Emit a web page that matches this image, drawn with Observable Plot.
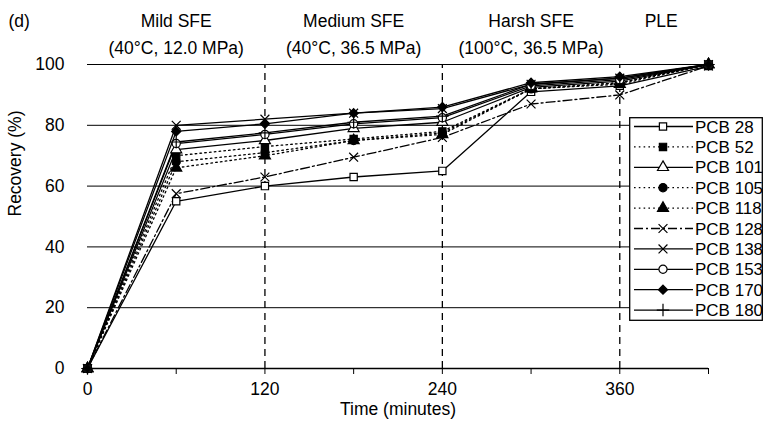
<!DOCTYPE html>
<html><head><meta charset="utf-8">
<script src="https://cdn.jsdelivr.net/npm/d3@7"></script>
<script src="https://cdn.jsdelivr.net/npm/@observablehq/plot@0.6"></script>
<style>
body{margin:0;background:#fff;}
#wrap{position:relative;width:763px;height:428px;font-family:"Liberation Sans",Arial,sans-serif;}
#legend{position:absolute;left:629px;top:117px;}
</style></head><body><div id="wrap"></div>
<script>
// ---- data ----
const times = [0, 60, 120, 180, 240, 300, 360, 420];
const seriesNames = ["PCB 28","PCB 52","PCB 101","PCB 105","PCB 118","PCB 128","PCB 138","PCB 153","PCB 170","PCB 180"];
const pcb28  = [0, 55,   60,   63,   65,   91,   93,   99.5];
const pcb52  = [0, 70,   73,   75.5, 78,   92,   94,   100];
const pcb101 = [0, 72,   75,   79,   81,   92.5, 94.5, 100];
const pcb105 = [0, 68,   71,   75,   77.5, 92,   94,   100];
const pcb118 = [0, 66,   70,   75,   77,   92,   93.5, 100];
const pcb128 = [0, 57.5, 63,   69.5, 76,   87,   90,   99.5];
const pcb138 = [0, 80,   82,   84,   85.5, 93.5, 95.5, 100];
const pcb153 = [0, 74,   77,   80.5, 82.5, 93,   95,   100];
const pcb170 = [0, 78,   80.5, 84,   86,   94,   96,   100];
const pcb180 = [0, 74.5, 77.5, 81,   83,   93.5, 95.5, 100];
const seriesValues = [pcb28, pcb52, pcb101, pcb105, pcb118, pcb128, pcb138, pcb153, pcb170, pcb180];

const gridValues = [20, 40, 60, 80, 100];
const stageBoundaries = [120, 240, 360];
const stageNames = ["Mild SFE", "Medium SFE", "Harsh SFE", "PLE"];
const stageConditions = ["(40°C, 12.0 MPa)", "(40°C, 36.5 MPa)", "(100°C, 36.5 MPa)", ""];
const stageCenters = [60, 180, 300, 388];
const xTicks = [0, 60, 120, 180, 240, 300, 360, 420];
const xTickLabels = [0, 120, 240, 360];
const yTicks = [0, 20, 40, 60, 80, 100];

// ---- styles ----
const DOT = "1.6,3.2";
const DASHDOT = "9,3,2,3";
const styleOf = {
  "PCB 28":  {symbol: "square",   fill: "white", dash: null},
  "PCB 52":  {symbol: "square",   fill: "black", dash: DOT},
  "PCB 101": {symbol: "triangle", fill: "white", dash: null},
  "PCB 105": {symbol: "circle",   fill: "black", dash: DOT},
  "PCB 118": {symbol: "triangle", fill: "black", dash: DOT},
  "PCB 128": {symbol: "times",    fill: "none",  dash: DASHDOT},
  "PCB 138": {symbol: "times",    fill: "none",  dash: null},
  "PCB 153": {symbol: "circle",   fill: "white", dash: null},
  "PCB 170": {symbol: "diamond2", fill: "black", dash: null},
  "PCB 180": {symbol: "plus",     fill: "none",  dash: null}
};
const R = 4.1;
const FONT = "Liberation Sans, Arial, sans-serif";
const FS = 17.5;

const rows = seriesNames.map((name, k) => times.map((t, i) => ({series: name, t, v: seriesValues[k][i]})));

const lineMarks = rows.map((data, k) => Plot.line(data, {
  x: "t", y: "v", stroke: "black", strokeWidth: 1.3,
  strokeDasharray: styleOf[seriesNames[k]].dash || undefined
}));
const dotMarks = rows.map((data, k) => {
  const s = styleOf[seriesNames[k]];
  return Plot.dot(data, {x: "t", y: "v", symbol: s.symbol, r: R,
    fill: s.fill, stroke: "black", strokeWidth: 1.2});
});

const stages = stageNames.map((n, i) => ({name: n, cond: stageConditions[i], x: stageCenters[i]}));

const chart = Plot.plot({
  width: 763, height: 428,
  marginLeft: 87, marginRight: 55, marginTop: 64, marginBottom: 60,
  style: {fontFamily: FONT, fontSize: FS + "px", background: "white", color: "black"},
  x: {domain: [0, 420]},
  y: {domain: [0, 100]},
  marks: [
    Plot.ruleY(gridValues, {stroke: "black", strokeWidth: 1}),
    Plot.ruleX(stageBoundaries, {y1: 0, y2: 100, stroke: "black", strokeWidth: 1.3, strokeDasharray: "7,5"}),
    Plot.ruleY([0], {stroke: "black", strokeWidth: 1.4}),
    Plot.axisX(xTicks, {tickSize: 6, tickPadding: 8, fontSize: FS, label: null,
      tickFormat: d => xTickLabels.includes(d) ? String(d) : ""}),
    Plot.axisY(yTicks, {tickSize: 0, tickPadding: 23, fontSize: FS, label: null}),
    Plot.text(["Time (minutes)"], {frameAnchor: "bottom", dy: 46, fontSize: FS}),
    Plot.text(["Recovery (%)"], {frameAnchor: "left", dx: -72, rotate: -90, fontSize: FS}),
    Plot.text(["(d)"], {frameAnchor: "top-left", dx: -79, dy: -50, textAnchor: "start", fontSize: FS}),
    Plot.text(stages, {x: "x", text: "name", frameAnchor: "top", dy: -50, fontSize: FS}),
    Plot.text(stages, {x: "x", text: "cond", frameAnchor: "top", dy: -23, fontSize: FS}),
    ...lineMarks,
    ...dotMarks
  ]
});
const wrap = document.getElementById("wrap");
wrap.appendChild(chart);

// ---- legend overlay ----
const symMap = {square: d3.symbolSquare, triangle: d3.symbolTriangle, circle: d3.symbolCircle,
  times: d3.symbolTimes, diamond2: d3.symbolDiamond2, plus: d3.symbolPlus};
const LW = 134, LH = 204, rowH = 20.4;
const lg = d3.select(wrap).append("svg").attr("id", "legend")
  .attr("width", LW).attr("height", LH).style("overflow", "visible");
lg.append("rect").attr("x", 0.7).attr("y", 0.7).attr("width", LW - 1.4).attr("height", LH - 1.4)
  .attr("fill", "white").attr("stroke", "black").attr("stroke-width", 1.3);
seriesNames.forEach((name, i) => {
  const s = styleOf[name];
  const y = 9.5 + i * rowH;
  const g = lg.append("g");
  g.append("line").attr("x1", 5).attr("x2", 64).attr("y1", y).attr("y2", y)
    .attr("stroke", "black").attr("stroke-width", 1.3)
    .attr("stroke-dasharray", s.dash || null);
  g.append("path").attr("transform", `translate(34,${y})`)
    .attr("d", d3.symbol(symMap[s.symbol], Math.PI * R * R)())
    .attr("fill", s.fill).attr("stroke", "black").attr("stroke-width", 1.2);
  g.append("text").attr("x", 66).attr("y", y).attr("dy", "0.36em")
    .attr("font-family", FONT).attr("font-size", 17).text(name);
});
</script></body></html>
